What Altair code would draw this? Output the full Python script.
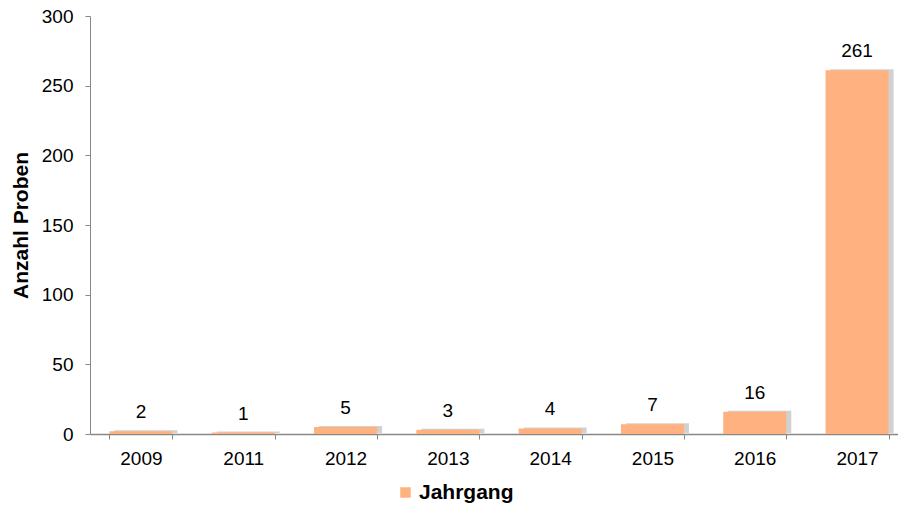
import altair as alt
import pandas as pd

years = ["2009", "2011", "2012", "2013", "2014", "2015", "2016", "2017"]
counts = [2, 1, 5, 3, 4, 7, 16, 261]
series_name = "Jahrgang"

df = pd.DataFrame({"Jahr": years, "Anzahl": counts, "Serie": [series_name] * len(years)})

FONT = "Liberation Sans"
BAR = "#FFB27F"

x_enc = alt.X("Jahr:N", sort=years, title=None,
              scale=alt.Scale(range=[0, 818], paddingInner=0.384, paddingOuter=0.19),
              axis=alt.Axis(labelAngle=0, labelFontSize=19, labelFont=FONT, labelColor="#000",
                            labelPadding=10, domainColor="#888", tickColor="#888", tickSize=5,
                            tickBand="extent", domainWidth=1.5))
y_enc = alt.Y("Anzahl:Q", title="Anzahl Proben",
              scale=alt.Scale(domain=[0, 300]),
              axis=alt.Axis(values=[0, 50, 100, 150, 200, 250, 300], grid=False,
                            labelFontSize=19, labelFont=FONT, labelColor="#000", labelPadding=12,
                            domainColor="#888", tickColor="#888", tickSize=5,
                            titleFont=FONT, titleFontSize=21, titleFontWeight="bold",
                            titleColor="#000", titlePadding=10))

base = alt.Chart(df)

shadow = base.mark_bar(color="#666", opacity=0.3, xOffset=5, yOffset=-1).encode(
    x=x_enc, y=y_enc)

bars = base.mark_bar().encode(
    x=x_enc, y=y_enc,
    color=alt.Color("Serie:N", scale=alt.Scale(domain=[series_name], range=[BAR]),
                    legend=alt.Legend(title=None, orient="none", legendX=305, legendY=466,
                                      symbolType="square", symbolSize=110, symbolStrokeWidth=0,
                                      labelFont=FONT, labelFontSize=21, labelFontWeight="bold",
                                      labelColor="#000", padding=0, labelOffset=3)))

labels = base.mark_text(baseline="bottom", dy=-9, fontSize=19, font=FONT, color="#000").encode(
    x=alt.X("Jahr:N", sort=years), y="Anzahl:Q", text="Anzahl:Q")

chart = alt.layer(shadow, bars, labels).properties(
    width=808, height=418,
    autosize=alt.AutoSizeParams(type="none"),
    padding={"left": 90, "top": 16, "right": 0, "bottom": 71},
    background="white",
).configure_view(stroke=None)

chart.save("out.html", embed_options={"renderer": "svg", "actions": False})
